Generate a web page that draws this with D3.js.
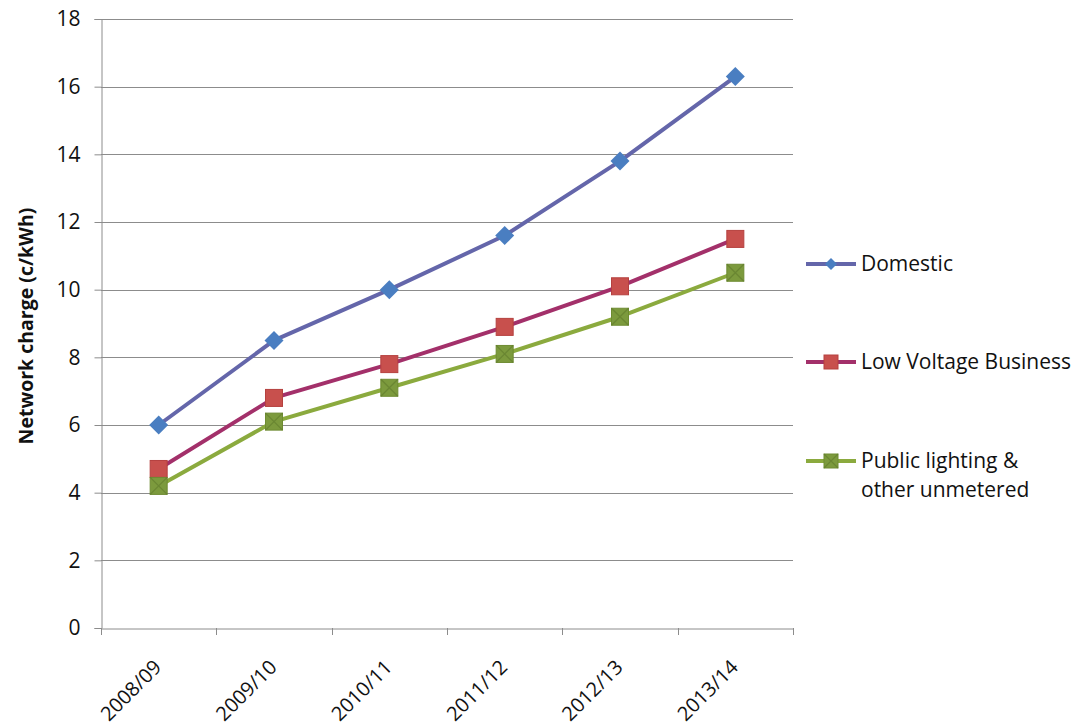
<!DOCTYPE html>
<html><head><meta charset="utf-8">
<script src="https://cdn.jsdelivr.net/npm/d3@7"></script>
<style>body{margin:0;background:#fff;} svg{display:block;font-family:"Open Sans","Noto Sans",sans-serif;}</style>
</head><body>
<svg id="chart" width="1075" height="727"></svg>
<script>
const categories = ["2008/09","2009/10","2010/11","2011/12","2012/13","2013/14"];
const domestic = [6.0, 8.5, 10.0, 11.6, 13.8, 16.3];
const lowVoltage = [4.7, 6.8, 7.8, 8.9, 10.1, 11.5];
const publicLighting = [4.2, 6.1, 7.1, 8.1, 9.2, 10.5];
const seriesNames = ["Domestic", "Low Voltage Business", "Public lighting & other unmetered"];
const yTicks = [0,2,4,6,8,10,12,14,16,18];

const series = [
  {name: seriesNames[0], values: domestic, line: "#6466AA", fill: "#4A7EC1", marker: "diamond"},
  {name: seriesNames[1], values: lowVoltage, line: "#A3306A", fill: "#C8504D", marker: "square"},
  {name: seriesNames[2], values: publicLighting, line: "#8BAA3E", fill: "#7C9A3D", marker: "xsquare"}
];

const svg = d3.select("#chart");
const mLeft = 101, mRight = 793, mTop = 19, mBottom = 628;
const x = d3.scaleBand().domain(categories).range([mLeft, mRight]);
const y = d3.scaleLinear().domain([0,18]).range([mBottom, mTop]);

// gridlines
svg.append("g").selectAll("line").data(yTicks.filter(d=>d>0)).join("line")
  .attr("x1", mLeft).attr("x2", mRight).attr("y1", d=>Math.round(y(d))+0.5).attr("y2", d=>Math.round(y(d))+0.5)
  .attr("stroke", "#8c8c8c").attr("stroke-width", 1);

// y axis
const yAxis = svg.append("g").attr("transform", `translate(${mLeft+0.5},0)`)
  .call(d3.axisLeft(y).tickValues(yTicks).tickSize(7).tickPadding(14));
yAxis.attr("font-family", null);
yAxis.select(".domain").attr("stroke", "#8c8c8c");
yAxis.selectAll(".tick line").attr("stroke", "#8c8c8c");
yAxis.selectAll("text").attr("font-size", 21).attr("fill", "#111");

// x axis
const xAxis = svg.append("g").attr("transform", `translate(0,${mBottom+0.5})`)
  .call(d3.axisBottom(x).tickSize(0));
xAxis.attr("font-family", null);
xAxis.select(".domain").attr("stroke", "#8c8c8c");
xAxis.selectAll(".tick text")
  .attr("font-size", 20).attr("fill", "#111")
  .attr("text-anchor", "end")
  .attr("x", 0).attr("y", 0).attr("dy", 0)
  .attr("transform", "translate(4,40) rotate(-45)");
// category boundary ticks
const bounds = categories.map(c => x(c)).concat([mRight]);
svg.append("g").selectAll("line").data(bounds).join("line")
  .attr("x1", d=>Math.round(d)+0.5).attr("x2", d=>Math.round(d)+0.5)
  .attr("y1", mBottom).attr("y2", mBottom+7)
  .attr("stroke", "#8c8c8c");

// y title
svg.append("text").attr("transform", `translate(33,326) rotate(-90)`)
  .attr("text-anchor", "middle").attr("font-weight", "bold").attr("font-size", 19.5)
  .attr("fill", "#111").text("Network charge (c/kWh)");

const cx = (c) => x(c) + x.bandwidth()/2;
const line = d3.line().x((d,i)=>cx(categories[i])).y(d=>y(d));

function drawMarker(g, type, s, fill) {
  if (type === "diamond") {
    const h = s/2;
    g.append("path").attr("d", `M0,${-h}L${h},0L0,${h}L${-h},0Z`).attr("fill", fill);
  } else if (type === "square") {
    g.append("rect").attr("x", -s/2).attr("y", -s/2).attr("width", s).attr("height", s)
      .attr("fill", fill).attr("stroke", "#b5413f").attr("stroke-width", 1);
  } else {
    g.append("rect").attr("x", -s/2).attr("y", -s/2).attr("width", s).attr("height", s)
      .attr("fill", fill).attr("stroke", "#6e8b32").attr("stroke-width", 1);
    g.append("path").attr("d", `M${-s/2},${-s/2}L${s/2},${s/2}M${s/2},${-s/2}L${-s/2},${s/2}`)
      .attr("stroke", "#5f7a2c").attr("stroke-width", 1.2).attr("opacity", 0.6);
  }
}

series.forEach(s => {
  svg.append("path").datum(s.values).attr("d", line)
    .attr("fill", "none").attr("stroke", s.line).attr("stroke-width", 4)
    .attr("stroke-linejoin", "round").attr("stroke-linecap", "round");
});
series.forEach(s => {
  s.values.forEach((v,i) => {
    const g = svg.append("g").attr("transform", `translate(${cx(categories[i])},${y(v)})`);
    drawMarker(g, s.marker, s.marker === "diamond" ? 19 : 17, s.fill);
  });
});

// legend
const legendY = [264, 362, 461];
series.forEach((s, i) => {
  const g = svg.append("g").attr("transform", `translate(806,${legendY[i]})`);
  g.append("line").attr("x1", 0).attr("x2", 50).attr("y1", 0).attr("y2", 0)
    .attr("stroke", s.line).attr("stroke-width", 4);
  const mg = g.append("g").attr("transform", "translate(25,0)");
  drawMarker(mg, s.marker, s.marker === "diamond" ? 12 : 14, s.fill);
  const t = g.append("text").attr("x", 55).attr("y", 0).attr("dy", "0.35em")
    .attr("font-size", 21).attr("fill", "#111");
  if (i === 2) {
    t.append("tspan").attr("x", 55).text("Public lighting &");
    t.append("tspan").attr("x", 55).attr("dy", 29).text("other unmetered");
  } else {
    t.text(s.name);
  }
});
</script>
</body></html>
